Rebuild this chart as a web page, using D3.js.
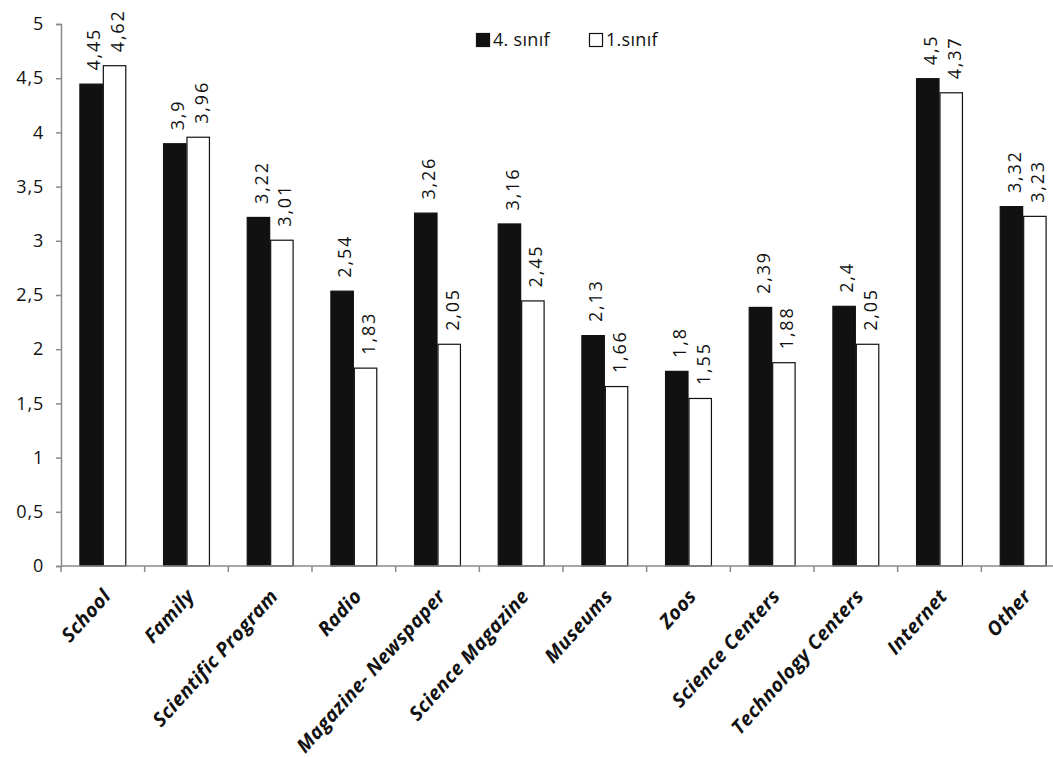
<!DOCTYPE html>
<html>
<head>
<meta charset="utf-8">
<script src="https://cdn.jsdelivr.net/npm/d3@7"></script>
<style>
  body { margin: 0; background: #fff; }
  svg { display: block; }
</style>
</head>
<body>
<svg id="chart" width="1053" height="757"></svg>
<script>
// Sources of information, mean scores by grade
const categories = ["School", "Family", "Scientific Program", "Radio", "Magazine- Newspaper",
  "Science Magazine", "Museums", "Zoos", "Science Centers", "Technology Centers", "Internet", "Other"];
const grade4 = [4.45, 3.9, 3.22, 2.54, 3.26, 3.16, 2.13, 1.8, 2.39, 2.4, 4.5, 3.32];
const grade1 = [4.62, 3.96, 3.01, 1.83, 2.05, 2.45, 1.66, 1.55, 1.88, 2.05, 4.37, 3.23];
const seriesNames = ["4. sınıf", "1.sınıf"];
const yTicks = [0, 0.5, 1, 1.5, 2, 2.5, 3, 3.5, 4, 4.5, 5];

const svg = d3.select("#chart");
const plotLeft = 61, plotRight = 1065, plotTop = 24, plotBottom = 566;
const font = "'Open Sans', 'Noto Sans', sans-serif";
const comma = v => String(v).replace(".", ",");

const x = d3.scaleBand().domain(categories).range([plotLeft, plotRight]).paddingInner(0).paddingOuter(0);
const y = d3.scaleLinear().domain([0, 5]).range([plotBottom, plotTop]);
const inner = d3.scaleBand().domain([0, 1]).range([0, x.bandwidth()]).paddingInner(0).paddingOuter(0.785);

const series = [
  { name: seriesNames[0], values: grade4, fill: "#111111", stroke: "#111111" },
  { name: seriesNames[1], values: grade1, fill: "#ffffff", stroke: "#111111" }
];

// Bars
series.forEach((s, si) => {
  svg.append("g").selectAll("rect")
    .data(categories.map((c, i) => ({ c, v: s.values[i] })))
    .join("rect")
    .attr("x", d => x(d.c) + inner(si) + 0.5)
    .attr("y", d => y(d.v) + 0.5)
    .attr("width", inner.bandwidth() - 1)
    .attr("height", d => y(0) - y(d.v) - 0.5)
    .attr("fill", s.fill)
    .attr("stroke", s.stroke)
    .attr("stroke-width", 1.2);

  // Value labels, rotated upright above each bar
  svg.append("g").selectAll("text")
    .data(categories.map((c, i) => ({ c, v: s.values[i] })))
    .join("text")
    .attr("transform", d => {
      const cx = x(d.c) + inner(si) + inner.bandwidth() / 2;
      return `translate(${cx + 3},${y(d.v) - 13}) rotate(-90)`;
    })
    .attr("dy", "0.35em")
    .attr("text-anchor", "start")
    .attr("font-family", font)
    .attr("font-size", 18)
    .attr("letter-spacing", 1.8)
    .attr("fill", "#111")
    .text(d => comma(d.v));
});

// Y axis
const yAxis = d3.axisLeft(y).tickValues(yTicks).tickFormat(comma).tickSize(5).tickPadding(12);
const gy = svg.append("g").attr("transform", `translate(${plotLeft},0)`).call(yAxis);
gy.select(".domain").attr("stroke", "#8a8a8a").attr("stroke-width", 1.5);
gy.selectAll(".tick line").attr("stroke", "#8a8a8a").attr("stroke-width", 1.5);
gy.selectAll(".tick text").attr("font-family", font).attr("font-size", 18)
  .attr("letter-spacing", 0.8).attr("fill", "#111");

// X axis: ticks at category boundaries
const gx = svg.append("g").attr("transform", `translate(0,${plotBottom})`);
gx.append("line").attr("x1", plotLeft).attr("x2", plotRight).attr("stroke", "#8a8a8a").attr("stroke-width", 1.5);
gx.selectAll("line.tk")
  .data(categories.map(c => x(c)).concat([plotRight]))
  .join("line")
  .attr("class", "tk")
  .attr("x1", d => d).attr("x2", d => d)
  .attr("y1", 0).attr("y2", 6)
  .attr("stroke", "#8a8a8a").attr("stroke-width", 1.5);
gx.selectAll("text")
  .data(categories)
  .join("text")
  .attr("transform", c => `translate(${x(c) + x.bandwidth() / 2 + 9},${31}) rotate(-48)`)
  .attr("text-anchor", "end")
  .attr("font-family", font)
  .attr("font-size", 19.5)
  .attr("letter-spacing", 0.4)
  .attr("font-weight", "bold")
  .attr("font-style", "italic")
  .attr("fill", "#111")
  .text(c => c);

// Legend
const legend = svg.append("g");
const legendItems = [
  { name: series[0].name, fill: series[0].fill, x: 476 },
  { name: series[1].name, fill: series[1].fill, x: 589 }
];
legendItems.forEach(it => {
  legend.append("rect")
    .attr("x", it.x + 0.5).attr("y", 33.5).attr("width", 13).attr("height", 13)
    .attr("fill", it.fill).attr("stroke", "#111").attr("stroke-width", 1.2);
  legend.append("text")
    .attr("x", it.x + 17).attr("y", 40).attr("dy", "0.35em")
    .attr("font-family", font).attr("font-size", 18).attr("letter-spacing", 0.3).attr("fill", "#111")
    .text(it.name);
});
</script>
</body>
</html>
